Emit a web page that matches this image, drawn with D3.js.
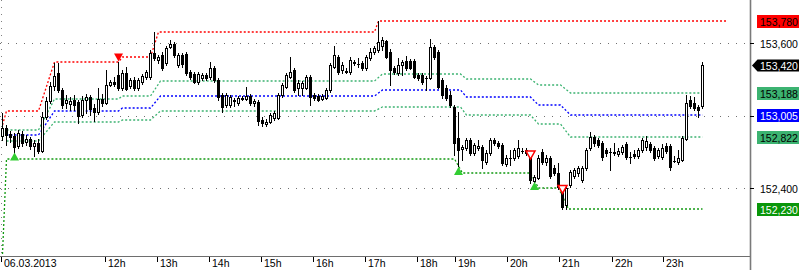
<!DOCTYPE html>
<html><head><meta charset="utf-8">
<script src="https://cdn.jsdelivr.net/npm/d3@7"></script>
<style>html,body{margin:0;padding:0;background:#fff;}svg{display:block;}</style>
</head><body>
<svg id="c" width="800" height="270"></svg>
<script>
// ---- DATA ----
// candles: [open, high, low, close], one per bar (06.03.2013 intraday)
const candles = [
[152.830,153.021,152.797,152.897],[152.897,152.922,152.756,152.839],[152.847,152.872,152.781,152.822],[152.830,152.855,152.690,152.739],
[152.748,152.880,152.731,152.855],[152.847,152.872,152.748,152.773],[152.781,152.839,152.756,152.806],[152.806,152.822,152.723,152.748],
[152.748,152.797,152.665,152.773],[152.773,152.806,152.690,152.706],[152.706,153.029,152.698,152.988],[152.988,153.153,152.971,153.120],
[153.120,153.277,153.104,153.244],[153.244,153.435,153.211,153.327],[153.352,153.435,153.195,153.211],[153.211,153.228,153.062,153.087],
[153.104,153.170,153.062,153.128],[153.095,153.153,153.046,153.120],[153.128,153.170,153.046,153.087],[153.112,153.128,152.938,152.996],
[153.004,153.161,152.988,153.128],[153.128,153.178,153.021,153.153],[153.153,153.170,153.004,153.054],[153.062,153.095,152.955,153.029],
[153.029,153.228,153.013,153.137],[153.137,153.178,153.079,153.104],[153.104,153.377,153.095,153.253],[153.253,153.294,153.244,153.277],
[153.277,153.319,153.244,153.261],[153.335,153.443,153.211,153.228],[153.228,153.377,153.211,153.352],[153.352,153.401,153.211,153.219],
[153.244,153.310,153.228,153.294],[153.294,153.319,153.211,153.228],[153.228,153.310,153.211,153.294],[153.277,153.344,153.261,153.327],
[153.319,153.377,153.302,153.360],[153.319,153.542,153.302,153.517],[153.517,153.691,153.459,153.476],[153.459,153.501,153.435,153.484],
[153.501,153.526,153.377,153.393],[153.435,153.575,153.418,153.559],[153.567,153.625,153.559,153.592],[153.592,153.608,153.484,153.501],
[153.418,153.517,153.401,153.501],[153.501,153.517,153.401,153.426],[153.509,153.526,153.335,153.352],[153.360,153.377,153.302,153.319],
[153.344,153.360,153.269,153.277],[153.277,153.360,153.261,153.344],[153.310,153.352,153.294,153.335],[153.335,153.352,153.294,153.310],
[153.319,153.443,153.302,153.393],[153.393,153.410,153.277,153.294],[153.294,153.310,153.128,153.153],[153.170,153.186,153.029,153.070],
[153.087,153.186,153.070,153.170],[153.087,153.170,153.070,153.153],[153.120,153.145,153.079,153.128],[153.104,153.161,153.087,153.145],
[153.137,153.161,153.128,153.145],[153.137,153.236,153.128,153.161],[153.161,153.178,153.087,153.104],[153.104,153.137,153.079,153.120],
[153.112,153.128,152.922,152.955],[152.963,152.988,152.913,152.938],[152.930,152.971,152.913,152.946],[152.946,153.021,152.938,153.004],
[152.979,153.037,152.963,153.021],[152.979,153.186,152.971,153.170],[153.170,153.269,153.153,153.253],[153.236,153.352,153.228,153.335],
[153.319,153.484,153.310,153.360],[153.377,153.393,153.195,153.211],[153.228,153.294,153.170,153.269],[153.228,153.286,153.170,153.269],
[153.228,153.335,153.219,153.319],[153.319,153.335,153.087,153.153],[153.170,153.186,153.128,153.145],[153.161,153.178,153.120,153.128],
[153.137,153.178,153.128,153.161],[153.145,153.228,153.137,153.211],[153.211,153.435,153.195,153.418],[153.401,153.575,153.393,153.501],
[153.484,153.501,153.344,153.360],[153.377,153.443,153.352,153.418],[153.360,153.393,153.352,153.368],[153.360,153.484,153.344,153.459],
[153.443,153.459,153.418,153.435],[153.426,153.476,153.401,153.424],[153.435,153.451,153.377,153.393],[153.393,153.501,153.377,153.484],
[153.476,153.559,153.459,153.526],[153.526,153.575,153.509,153.559],[153.542,153.780,153.526,153.608],[153.575,153.650,153.542,153.625],
[153.617,153.625,153.476,153.484],[153.526,153.550,153.253,153.377],[153.393,153.410,153.344,153.360],[153.352,153.476,153.335,153.418],
[153.418,153.459,153.335,153.443],[153.451,153.493,153.377,153.393],[153.451,153.468,153.385,153.393],[153.451,153.468,153.310,153.319],
[153.335,153.352,153.294,153.310],[153.335,153.352,153.261,153.277],[153.310,153.327,153.211,153.308],[153.310,153.633,153.302,153.567],
[153.567,153.584,153.468,153.484],[153.526,153.542,153.228,153.236],[153.294,153.310,153.145,153.170],[153.228,153.253,153.128,153.145],
[153.170,153.203,153.070,153.087],[153.070,153.087,152.673,152.773],[152.814,153.029,152.582,152.715],[152.723,152.756,152.632,152.739],
[152.731,152.814,152.715,152.797],[152.797,152.814,152.673,152.690],[152.690,152.773,152.673,152.756],[152.731,152.797,152.715,152.748],
[152.739,152.756,152.566,152.632],[152.615,152.715,152.599,152.690],[152.690,152.814,152.673,152.797],[152.797,152.814,152.756,152.773],
[152.773,152.789,152.731,152.748],[152.756,152.773,152.590,152.607],[152.599,152.673,152.582,152.648],[152.648,152.715,152.590,152.650],
[152.648,152.731,152.632,152.715],[152.665,152.797,152.648,152.731],[152.706,152.731,152.690,152.708],[152.690,152.731,152.673,152.715],
[152.690,152.706,152.441,152.466],[152.458,152.508,152.441,152.491],[152.483,152.673,152.475,152.648],[152.698,152.723,152.599,152.615],
[152.615,152.673,152.590,152.648],[152.648,152.665,152.483,152.499],[152.566,152.590,152.508,152.524],[152.524,152.607,152.392,152.408],
[152.408,152.425,152.230,152.243],[152.259,152.425,152.230,152.400],[152.425,152.549,152.408,152.533],[152.499,152.566,152.483,152.549],
[152.524,152.582,152.499,152.566],[152.466,152.582,152.450,152.566],[152.566,152.731,152.549,152.715],[152.731,152.864,152.715,152.822],
[152.822,152.839,152.748,152.773],[152.797,152.814,152.739,152.756],[152.773,152.789,152.632,152.657],[152.715,152.731,152.665,152.690],
[152.698,152.731,152.549,152.696],[152.690,152.773,152.673,152.698],[152.681,152.731,152.665,152.706],[152.698,152.756,152.681,152.739],
[152.764,152.781,152.640,152.657],[152.657,152.698,152.607,152.655],[152.681,152.715,152.648,152.665],[152.665,152.731,152.648,152.715],
[152.715,152.814,152.698,152.797],[152.739,152.830,152.715,152.789],[152.764,152.781,152.698,152.715],[152.731,152.748,152.632,152.648],
[152.665,152.731,152.648,152.715],[152.657,152.764,152.640,152.731],[152.748,152.773,152.690,152.706],[152.748,152.764,152.549,152.574],
[152.624,152.665,152.615,152.622],[152.615,152.715,152.599,152.648],[152.632,152.830,152.624,152.814],[152.806,153.170,152.797,153.104],
[153.128,153.161,153.062,153.079],[153.104,153.153,153.046,153.062],[153.070,153.087,152.988,153.046],[153.079,153.443,153.062,153.420]
];
// indicator levels: [bar index, price] breakpoints
const resistance = [[0,152.922],[1,153.037],[9,153.037],[13,153.443],[29,153.443],[30,153.484],[37,153.484],[39,153.691],[93,153.691],[94,153.780],[181,153.780]];
const support    = [[0,151.850],[1,152.636],[113,152.636],[115,152.527],[132,152.527],[134,152.398],[139,152.398],[141.5,152.230],[175,152.230]];
const levelBars  = [1,9,13,29,30,37,39.5,93,95,114.5,116,132,134,139.5,142,175];
const fib618 = [152.884,152.884,153.135,153.135,153.160,153.160,153.288,153.288,153.343,153.343,153.301,153.301,153.252,153.252,153.188,153.188];
const fib500 = [152.837,152.837,153.040,153.040,153.060,153.060,153.164,153.164,153.208,153.208,153.154,153.154,153.089,153.089,153.005,153.005];
const fib382 = [152.789,152.789,152.944,152.944,152.960,152.960,153.039,153.039,153.073,153.073,153.006,153.006,152.926,152.926,152.822,152.822];
// signals: [bar index, price]
const buySignals  = [[3,152.661],[114,152.541],[133,152.417]];
const sellSignals = [[29,153.480],[132,152.673],[140,152.388]];
const sellHollow  = [false,true,true];
// axes
const gridPrices  = [153.6,153.0,152.4];
const priceLabels = [153.780,153.600,153.420,153.188,153.005,152.822,152.400,152.230];
const timeLabels  = ["06.03.2013","12h","13h","14h","15h","16h","17h","18h","19h","20h","21h","22h","23h"];
const timeBars    = [0,26,39,52,65,78,91,104,113.5,126.5,139.5,152.75,165.5];

// ---- DRAW ----
const svg = d3.select('#c');
const W = 800, H = 270, PR = 750, PB = 256;
svg.append('rect').attr('width',W).attr('height',H).attr('fill','#fff');
const x = d3.scaleLinear().domain([0,187]).range([2,750]);
const y = d3.scaleLinear().domain([152.4,153.6]).range([188,43]);
const ry = v => Math.round(y(v));

svg.append('defs').append('clipPath').attr('id','clip')
  .append('rect').attr('x',0).attr('y',0).attr('width',PR).attr('height',PB);
const plot = svg.append('g').attr('clip-path','url(#clip)');

// grid
gridPrices.forEach(v=>{
  plot.append('line').attr('x1',0).attr('x2',PR).attr('y1',ry(v)+0.5).attr('y2',ry(v)+0.5)
    .attr('stroke','#707070').attr('stroke-dasharray','1,7');
});
plot.append('line').attr('x1',1.5).attr('x2',1.5).attr('y1',0).attr('y2',PB)
  .attr('stroke','#808080').attr('stroke-dasharray','1,6');

// level lines
const line = d3.line().x(d=>Math.round(x(d[0]))+0.5).y(d=>ry(d[1]));
const mk = arr => levelBars.map((b,i)=>[b,arr[i]]);
const levels = [
  {d:mk(fib618), c:'#3cb371'},
  {d:mk(fib500), c:'#0000ff'},
  {d:mk(fib382), c:'#3cb371'},
  {d:support, c:'#119911'},
  {d:resistance, c:'#ff0000'}
];
levels.forEach(l=>{
  plot.append('path').attr('d',line(l.d)).attr('fill','none').attr('stroke',l.c)
    .attr('stroke-width',1.3).attr('stroke-dasharray','2,2');
});

// candles
const cg = plot.append('g');
candles.forEach((c,i)=>{
  const [o,h,l,cl] = c;
  const xi = Math.round(x(i));
  cg.append('line').attr('x1',xi+0.5).attr('x2',xi+0.5).attr('y1',ry(h)).attr('y2',ry(l)+1)
    .attr('stroke','#000').attr('stroke-width',1);
  const top = Math.min(ry(o),ry(cl)), bot = Math.max(ry(o),ry(cl));
  if (bot-top < 1) {
    cg.append('line').attr('x1',xi-1).attr('x2',xi+2).attr('y1',top+0.5).attr('y2',top+0.5).attr('stroke','#000');
  } else {
    cg.append('rect').attr('x',xi-0.5).attr('y',top+0.5).attr('width',2).attr('height',bot-top)
      .attr('fill', cl>o ? '#fff' : '#000').attr('stroke','#000').attr('stroke-width',1);
  }
});

// signals
const triUp = (cx,cy)=>`M${cx-4.5},${cy+4}L${cx+4.5},${cy+4}L${cx},${cy-4}Z`;
const triDn = (cx,cy)=>`M${cx-4.5},${cy-4}L${cx+4.5},${cy-4}L${cx},${cy+4}Z`;
buySignals.forEach(s=>{
  plot.append('path').attr('d',triUp(x(s[0])+0.5,y(s[1]))).attr('fill','#32cd32');
});
sellSignals.forEach((s,i)=>{
  const p = plot.append('path').attr('d',triDn(x(s[0])+0.5,y(s[1])));
  if (sellHollow[i]) p.attr('fill','#fff').attr('stroke','#ff0000').attr('stroke-width',1.5);
  else p.attr('fill','#ff0000');
});

// axes frame
svg.append('line').attr('x1',0).attr('x2',PR).attr('y1',PB+0.5).attr('y2',PB+0.5).attr('stroke','#6e6e6e');
svg.append('line').attr('x1',PR+0.5).attr('x2',PR+0.5).attr('y1',0).attr('y2',H).attr('stroke','#7a7a7a').attr('stroke-width',1.6);

// time axis
const font = '"Liberation Sans", Arial, sans-serif';
timeBars.forEach((b,i)=>{
  const tx = Math.round(x(b))-1;
  svg.append('line').attr('x1',tx+0.5).attr('x2',tx+0.5).attr('y1',PB+1).attr('y2',PB+6).attr('stroke','#000');
  svg.append('text').attr('x',tx+3).attr('y',267).attr('font-family',font).attr('font-size',10.5)
    .attr('fill','#000').text(timeLabels[i]);
});

// price axis ticks
gridPrices.forEach(v=>{
  svg.append('line').attr('x1',PR).attr('x2',PR+4).attr('y1',ry(v)+0.5).attr('y2',ry(v)+0.5).attr('stroke','#000');
});
const fmt = v => d3.format('.3f')(v).replace('.',',');
const styleOf = {
  '153.780':{bg:'#ff0000',fg:'#000'},
  '153.420':{bg:'#000',fg:'#fff',arrow:true},
  '153.188':{bg:'#3cb371',fg:'#000'},
  '153.005':{bg:'#0000ff',fg:'#fff'},
  '152.822':{bg:'#3cb371',fg:'#000'},
  '152.230':{bg:'#0a960a',fg:'#fff'}
};
priceLabels.forEach(v=>{
  const yc = ry(v);
  const st = styleOf[v.toFixed(3)];
  if (st) {
    if (st.arrow) {
      svg.append('path').attr('d',`M752,${yc+0.5}L757.5,${yc-5.5}L799,${yc-5.5}L799,${yc+6.5}L757.5,${yc+6.5}Z`).attr('fill',st.bg);
    } else {
      svg.append('rect').attr('x',757).attr('y',yc-6).attr('width',42).attr('height',13).attr('fill',st.bg);
    }
  }
  svg.append('text').attr('x',760).attr('y',yc+4.5).attr('font-family',font).attr('font-size',10.5)
    .attr('fill', st ? st.fg : '#000').text(fmt(v));
});
</script>
</body></html>
